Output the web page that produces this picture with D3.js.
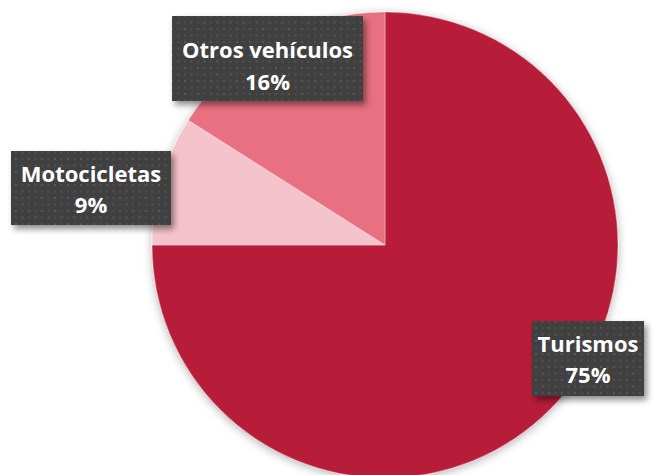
<!DOCTYPE html>
<html><head><meta charset="utf-8">
<script src="https://cdn.jsdelivr.net/npm/d3@7/dist/d3.min.js"></script>
<style>html,body{margin:0;padding:0;background:#fff;}svg{display:block;}</style>
</head><body>
<svg id="c" width="653" height="475"></svg>
<script>
const categories = ["Turismos", "Motocicletas", "Otros vehículos"];
const values = [75, 9, 16];
const pctLabels = ["75%", "9%", "16%"];
const colors = ["#B71E39", "#F5C3CB", "#E87080"];

const W = 653, H = 475;
const cx = 385, cy = 245, R = 233;
// label box centers (layout), box sizes, text baseline offsets
const boxes = {
  "Turismos": {x: 588, y: 358.5, w: 112, h: 75, t1: -6.5, t2: 24.5},
  "Motocicletas": {x: 91, y: 188, w: 160, h: 74, t1: -6, t2: 25},
  "Otros vehículos": {x: 267.5, y: 58.5, w: 191, h: 85, t1: -0.5, t2: 31}
};

const svg = d3.select("#c");
const defs = svg.append("defs");
const sh = defs.append("filter").attr("id","pshadow").attr("x","-20%").attr("y","-20%").attr("width","140%").attr("height","140%");
sh.append("feDropShadow").attr("dx",0).attr("dy",2).attr("stdDeviation",5).attr("flood-color","#000").attr("flood-opacity",0.3);
const bs = defs.append("filter").attr("id","bshadow").attr("x","-20%").attr("y","-20%").attr("width","150%").attr("height","150%");
bs.append("feDropShadow").attr("dx",3).attr("dy",4).attr("stdDeviation",3).attr("flood-color","#000").attr("flood-opacity",0.45);
const pat = defs.append("pattern").attr("id","dots").attr("patternUnits","userSpaceOnUse").attr("width",13).attr("height",13);
pat.append("rect").attr("width",13).attr("height",13).attr("fill","#404040");
pat.append("rect").attr("x",2).attr("y",2).attr("width",2).attr("height",2).attr("fill","#575757");
pat.append("rect").attr("x",8.5).attr("y",8.5).attr("width",2).attr("height",2).attr("fill","#575757");
pat.append("rect").attr("x",8.5).attr("y",2).attr("width",2).attr("height",2).attr("fill","#4c4c4c");
pat.append("rect").attr("x",2).attr("y",8.5).attr("width",2).attr("height",2).attr("fill","#4c4c4c");

const data = categories.map((c,i)=>({name:c, value:values[i], pct:pctLabels[i], color:colors[i]}));
const pie = d3.pie().sort(null).value(d=>d.value).startAngle(0).endAngle(2*Math.PI);
const arc = d3.arc().innerRadius(0).outerRadius(R);

const g = svg.append("g").attr("transform",`translate(${cx},${cy})`);
g.append("g").attr("filter","url(#pshadow)").selectAll("path").data(pie(data)).join("path")
  .attr("d", arc).attr("fill", d=>d.data.color)
  .attr("stroke","#fff").attr("stroke-opacity",0.35).attr("stroke-width",1);

const lg = svg.append("g");
data.forEach(d=>{
  const b = boxes[d.name];
  const gg = lg.append("g");
  gg.append("rect").attr("x", b.x-b.w/2).attr("y", b.y-b.h/2).attr("width", b.w).attr("height", b.h)
    .attr("fill","url(#dots)").attr("filter","url(#bshadow)");
  const t = gg.append("text").attr("text-anchor","middle").attr("fill","#fff")
    .attr("font-family","'Open Sans', Lato, sans-serif").attr("font-weight","bold").attr("font-size",22);
  t.append("tspan").attr("x", b.x).attr("y", b.y+b.t1).text(d.name);
  t.append("tspan").attr("x", b.x).attr("y", b.y+b.t2).text(d.pct);
});
</script>
</body></html>
